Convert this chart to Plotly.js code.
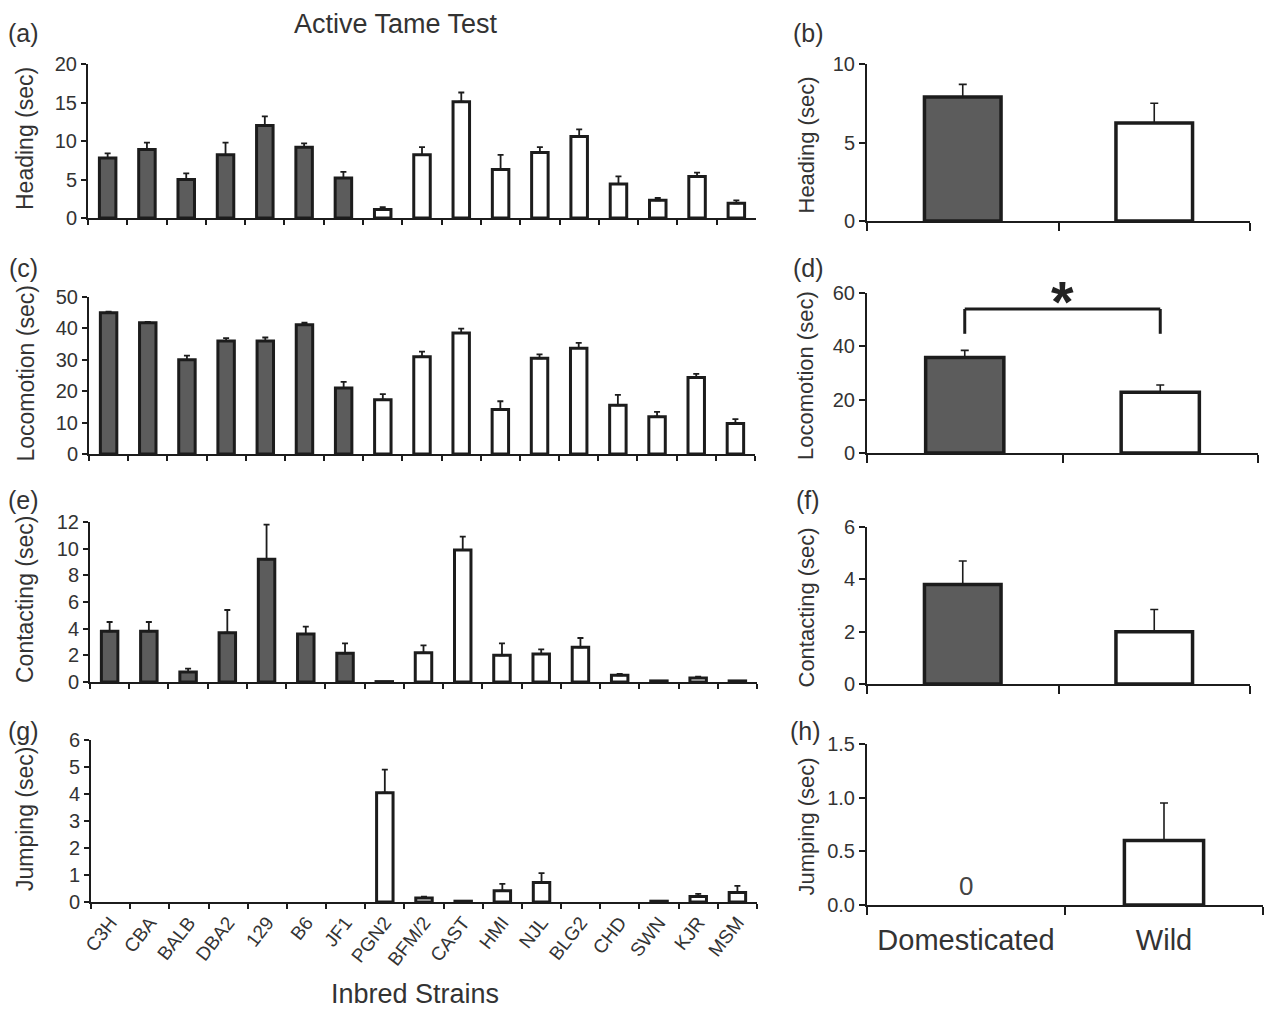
<!DOCTYPE html>
<html>
<head>
<meta charset="utf-8">
<script src="https://cdn.plot.ly/plotly-3.0.1.min.js"></script>
<style>
html,body{margin:0;padding:0;background:#fff;}
#chart{width:1266px;height:1012px;}
</style>
</head>
<body>
<div id="chart"></div>
<script>
// ---------------- data ----------------
const strains = ['C3H','CBA','BALB','DBA2','129','B6','JF1','PGN2','BFM/2','CAST','HMI','NJL','BLG2','CHD','SWN','KJR','MSM'];
const strainGroup = ['Domesticated','Domesticated','Domesticated','Domesticated','Domesticated','Domesticated','Domesticated',
  'Wild','Wild','Wild','Wild','Wild','Wild','Wild','Wild','Wild','Wild'];

const heading     = [7.8, 8.9, 5.0, 8.2, 12.0, 9.2, 5.2, 1.1, 8.2, 15.1, 6.3, 8.5, 10.6, 4.4, 2.3, 5.4, 1.9];
const headingErr  = [0.6, 0.9, 0.8, 1.6, 1.2, 0.5, 0.8, 0.3, 1.0, 1.2, 1.9, 0.7, 0.9, 1.0, 0.3, 0.5, 0.4];
const locomotion    = [45.0, 41.8, 30.0, 36.0, 36.0, 41.2, 21.0, 17.3, 31.0, 38.5, 14.2, 30.5, 33.7, 15.5, 11.9, 24.4, 9.7];
const locomotionErr = [0.3, 0.3, 1.3, 0.9, 1.1, 0.6, 2.0, 1.8, 1.6, 1.4, 2.6, 1.2, 1.7, 3.3, 1.5, 1.1, 1.4];
const contacting    = [3.8, 3.8, 0.75, 3.7, 9.2, 3.6, 2.15, 0.03, 2.2, 9.9, 2.0, 2.1, 2.6, 0.5, 0.08, 0.3, 0.08];
const contactingErr = [0.7, 0.7, 0.25, 1.7, 2.6, 0.55, 0.75, 0.0, 0.55, 1.0, 0.9, 0.35, 0.7, 0.1, 0.0, 0.1, 0.0];
const jumping    = [0, 0, 0, 0, 0, 0, 0, 4.05, 0.15, 0.03, 0.42, 0.72, 0, 0, 0.03, 0.2, 0.35];
const jumpingErr = [0, 0, 0, 0, 0, 0, 0, 0.85, 0.05, 0.0, 0.25, 0.35, 0, 0, 0.0, 0.1, 0.25];

const groups = ['Domesticated','Wild'];
const groupHeading       = [7.9, 6.25];
const groupHeadingErr    = [0.8, 1.25];
const groupLocomotion    = [35.8, 22.8];
const groupLocomotionErr = [2.7, 2.7];
const groupContacting    = [3.8, 2.0];
const groupContactingErr = [0.9, 0.85];
const groupJumping       = [0, 0.6];
const groupJumpingErr    = [0, 0.35];

const measures = ['Heading (sec)','Locomotion (sec)','Contacting (sec)','Jumping (sec)'];
const yMax = [20, 50, 12, 6];
const yDtick = [5, 10, 2, 1];
const gMax = [10, 60, 6, 1.5];
const gDtick = [5, 20, 2, 0.5];
const panelLetters = [['(a)','(b)'],['(c)','(d)'],['(e)','(f)'],['(g)','(h)']];

// ---------------- style ----------------
const W = 1266, H = 1012;
const DARK = '#5c5c5c', EDGE = '#1c1c1c', TXT = '#333333';
const FONT = 'Liberation Sans, Arial, sans-serif';
const fill = g => g === 'Domesticated' ? DARK : '#ffffff';

// pixel boxes [x0, x1, yTop, yBottom]
const leftBox  = [[88,756,64,218],[89,755,297,454],[90,757,522,682],[91,757,740,902]];
const rightBox = [[867,1250,64,221],[867,1258,293,453],[867,1250,527,684],[867,1263,744,905]];
const px = v => v / W, py = v => 1 - v / H;

const leftVals = [[heading, headingErr],[locomotion, locomotionErr],[contacting, contactingErr],[jumping, jumpingErr]];
const rightVals = [[groupHeading, groupHeadingErr],[groupLocomotion, groupLocomotionErr],[groupContacting, groupContactingErr],[groupJumping, groupJumpingErr]];

const traces = [];
const layout = {
  width: W, height: H,
  margin: {l:0, r:0, t:0, b:0},
  paper_bgcolor: '#fff', plot_bgcolor: '#fff',
  showlegend: false,
  font: {family: FONT, color: TXT},
  annotations: [], shapes: []
};

function axisCommon() {
  return {
    showline: true, linewidth: 2, linecolor: EDGE,
    ticks: 'outside', ticklen: 6, tickwidth: 2, tickcolor: EDGE,
    showgrid: false, zeroline: false, fixedrange: true,
    tickfont: {family: FONT, size: 20, color: TXT}
  };
}

// zero-valued bars / errors are not drawn (as in the original, a zero leaves no mark)
const shown = vals => vals.map(v => v === 0 ? null : v);
const upErr = errs => errs.map(e => e > 0 ? e : NaN);
const downErr = (vals, errs) => vals.map((v, i) => (v === 0 || !(errs[i] > 0)) ? NaN : 0);

for (let r = 0; r < 4; r++) {
  const li = 2*r + 1, ri = 2*r + 2;
  const [vals, errs] = leftVals[r];
  traces.push({
    type: 'bar', x: strains, y: shown(vals),
    xaxis: 'x' + li, yaxis: 'y' + li,
    width: 0.42,
    marker: {color: strainGroup.map(fill), line: {color: EDGE, width: 3}},
    error_y: {type: 'data', symmetric: false, array: upErr(errs), arrayminus: downErr(vals, errs),
              color: EDGE, thickness: 1.8, width: 3},
    hoverinfo: 'x+y'
  });
  const [gv, ge] = rightVals[r];
  traces.push({
    type: 'bar', x: groups, y: shown(gv),
    xaxis: 'x' + ri, yaxis: 'y' + ri,
    width: 0.40,
    marker: {color: groups.map(fill), line: {color: EDGE, width: 3.5}},
    error_y: {type: 'data', symmetric: false, array: upErr(ge), arrayminus: downErr(gv, ge),
              color: EDGE, thickness: 1.6, width: 4},
    hoverinfo: 'x+y'
  });

  const lb = leftBox[r], rb = rightBox[r];
  const lx = Object.assign(axisCommon(), {
    type: 'category', categoryorder: 'array', categoryarray: strains,
    domain: [px(lb[0]), px(lb[1])], anchor: 'y' + li,
    range: [-0.5, strains.length - 0.5], tickson: 'boundaries',
    ticklen: 5,
    showticklabels: r === 3, tickangle: -52,
    tickfont: {family: FONT, size: 19, color: TXT}
  });
  const ly = Object.assign(axisCommon(), {
    domain: [py(lb[3]), py(lb[2])], anchor: 'x' + li,
    range: [0, yMax[r]], dtick: yDtick[r], tick0: 0, ticklen: 5
  });
  const rx = Object.assign(axisCommon(), {
    type: 'category', categoryorder: 'array', categoryarray: groups,
    domain: [px(rb[0]), px(rb[1])], anchor: 'y' + ri,
    range: [-0.5, groups.length - 0.5], tickson: 'boundaries',
    ticklen: 8,
    showticklabels: r === 3, tickangle: 0, ticklabelstandoff: 8,
    tickfont: {family: FONT, size: 29, color: TXT}
  });
  const ry = Object.assign(axisCommon(), {
    domain: [py(rb[3]), py(rb[2])], anchor: 'x' + ri,
    range: [0, gMax[r]], dtick: gDtick[r], tick0: 0, ticklen: 6,
    tickformat: r === 3 ? '.1f' : ''
  });
  const sfx = n => n === 1 ? '' : String(n);
  layout['xaxis' + sfx(li)] = lx;
  layout['yaxis' + sfx(li)] = ly;
  layout['xaxis' + sfx(ri)] = rx;
  layout['yaxis' + sfx(ri)] = ry;

  // y-axis titles
  layout.annotations.push({
    xref: 'paper', yref: 'paper', x: px(25), y: py((lb[2] + lb[3]) / 2 - 2),
    text: measures[r], textangle: -90, showarrow: false,
    xanchor: 'center', yanchor: 'middle',
    font: {family: FONT, size: 23, color: TXT}
  });
  layout.annotations.push({
    xref: 'paper', yref: 'paper', x: px(806), y: py((rb[2] + rb[3]) / 2 + 2),
    text: measures[r], textangle: -90, showarrow: false,
    xanchor: 'center', yanchor: 'middle',
    font: {family: FONT, size: 22, color: TXT}
  });
}

// panel letters
const letterY = [33, 268, 500, 731];
const letterX = [[23, 808],[23, 808],[23, 808],[23, 806]];
for (let r = 0; r < 4; r++) {
  for (let c = 0; c < 2; c++) {
    layout.annotations.push({
      xref: 'paper', yref: 'paper', x: px(letterX[r][c]), y: py(letterY[r]),
      text: panelLetters[r][c], showarrow: false, xanchor: 'center', yanchor: 'middle',
      font: {family: FONT, size: 25, color: TXT}
    });
  }
}

// titles
layout.annotations.push({
  xref: 'paper', yref: 'paper', x: px(396), y: py(24),
  text: 'Active Tame Test', showarrow: false, xanchor: 'center', yanchor: 'middle',
  font: {family: FONT, size: 27, color: TXT}
});
layout.annotations.push({
  xref: 'paper', yref: 'paper', x: px(415), y: py(994),
  text: 'Inbred Strains', showarrow: false, xanchor: 'center', yanchor: 'middle',
  font: {family: FONT, size: 27, color: TXT}
});

// "0" label for domesticated jumping
layout.annotations.push({
  xref: 'x8', yref: 'y8', x: 0, y: 0, yshift: 19,
  text: String(groupJumping[0]), showarrow: false, xanchor: 'center', yanchor: 'middle',
  font: {family: FONT, size: 26, color: '#444'}
});

// significance bracket on (d)
const brTop = 54, brLeg = 44.7;
const lineStyle = {color: EDGE, width: 3};
layout.shapes.push({type: 'line', xref: 'x4', yref: 'y4', x0: 0, x1: 0, y0: brLeg, y1: brTop, line: lineStyle});
layout.shapes.push({type: 'line', xref: 'x4', yref: 'y4', x0: 0, x1: 1, y0: brTop, y1: brTop, line: lineStyle});
layout.shapes.push({type: 'line', xref: 'x4', yref: 'y4', x0: 1, x1: 1, y0: brLeg, y1: brTop, line: lineStyle});
layout.annotations.push({
  xref: 'x4', yref: 'y4', x: 0.5, y: brTop, yshift: 8,
  text: '<b>*</b>', showarrow: false, xanchor: 'center', yanchor: 'middle',
  font: {family: FONT, size: 58, color: '#222'}
});

Plotly.newPlot('chart', traces, layout, {staticPlot: true, displayModeBar: false});
</script>
</body>
</html>
